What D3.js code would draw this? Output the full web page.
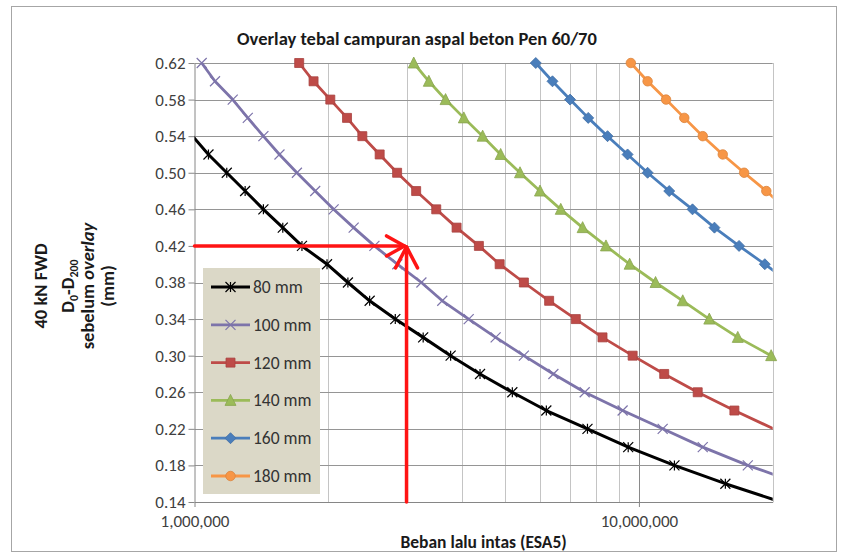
<!DOCTYPE html>
<html>
<head>
<meta charset="utf-8">
<script src="https://cdn.jsdelivr.net/npm/d3@7"></script>
<style>
  body { margin: 0; background: #fff; }
  svg { display: block; }
  text { font-family: Carlito, Calibri, Lato, "Open Sans", sans-serif; }
</style>
</head>
<body>
<svg id="chart" width="843" height="557"></svg>
<script>
// Deflection levels (mm) shared by every thickness curve
const deflection = [0.62, 0.60, 0.58, 0.56, 0.54, 0.52, 0.50, 0.48, 0.46, 0.44, 0.42, 0.40,
                    0.38, 0.36, 0.34, 0.32, 0.30, 0.28, 0.26, 0.24, 0.22, 0.20, 0.18, 0.16, 0.14];

// Traffic load (million ESA5) reaching each deflection level; null = level not on the curve
const esa80  = [null, null, null, 0.92, 0.99, 1.075, 1.182, 1.300, 1.429, 1.580, 1.745, 1.987,
                2.214, 2.478, 2.83, 3.27, 3.77, 4.39, 5.19, 6.19, 7.66, 9.46, 12.02, 15.65, 20.9];
const esa100 = [1.038, 1.112, 1.219, 1.318, 1.429, 1.553, 1.700, 1.869, 2.056, 2.281, 2.54, 2.86,
                3.24, 3.61, 4.14, 4.76, 5.51, 6.42, 7.55, 9.19, 11.31, 13.92, 17.58, 23.1, null];
const esa120 = [1.72, 1.853, 2.021, 2.204, 2.386, 2.61, 2.857, 3.153, 3.499, 3.888, 4.364, 4.86,
                5.51, 6.28, 7.21, 8.28, 9.68, 11.40, 13.56, 16.40, 20.1, null, null, null, null];
const esa140 = [3.114, 3.367, 3.672, 4.037, 4.45, 4.885, 5.40, 5.99, 6.67, 7.47, 8.43, 9.53,
                10.9, 12.55, 14.40, 16.69, 19.84, null, null, null, null, null, null, null, null];
const esa160 = [5.86, 6.39, 7.00, 7.69, 8.50, 9.43, 10.46, 11.70, 13.2, 14.79, 16.8, 19.2,
                21.8, null, null, null, null, null, null, null, null, null, null, null, null];
const esa180 = [9.59, 10.46, 11.51, 12.65, 13.92, 15.44, 17.25, 19.35, 21.5, null, null, null,
                null, null, null, null, null, null, null, null, null, null, null, null, null];

const seriesNames   = ["80 mm", "100 mm", "120 mm", "140 mm", "160 mm", "180 mm"];
const seriesValues  = [esa80, esa100, esa120, esa140, esa160, esa180];
const seriesColors  = ["#000000", "#7d74aa", "#be4b48", "#9bbb59", "#4a7ebb", "#f79646"];
const seriesMarkers = ["star", "cross", "square", "triangle", "diamond", "circle"];

const xDomain = [1e6, 2e7];
const yDomain = [0.14, 0.62];
const xTickValues = [1e6, 1e7];
const xGridValues = [2e6, 3e6, 4e6, 5e6, 6e6, 7e6, 8e6, 9e6, 2e7];
const yTickValues = [0.14, 0.18, 0.22, 0.26, 0.30, 0.34, 0.38, 0.42, 0.46, 0.50, 0.54, 0.58, 0.62];

// Worked example: 3,000,000 ESA5 at 0.42 mm
const exampleEsa = 3e6;
const exampleDefl = 0.42;

const svg = d3.select("#chart");
const plot = { left: 194.5, right: 772.7, top: 63, bottom: 502 };

const x = d3.scaleLog().domain(xDomain).range([plot.left, plot.right]);
const y = d3.scaleLinear().domain(yDomain).range([plot.bottom, plot.top]);

// chart frame
svg.append("rect")
  .attr("x", 11.5).attr("y", 6.5).attr("width", 825).attr("height", 545)
  .attr("fill", "#fff").attr("stroke", "#a6a6a6").attr("stroke-width", 1);

// title
svg.append("text")
  .attr("x", 417).attr("y", 45)
  .attr("text-anchor", "middle")
  .attr("font-weight", "bold").attr("font-size", 18.5).attr("fill", "#1a1a1a")
  .text("Overlay tebal campuran aspal beton Pen 60/70");

// gridlines
const grid = svg.append("g");
grid.selectAll(".vminor").data(xGridValues).join("line")
  .attr("x1", d => Math.round(x(d)) + 0.5).attr("x2", d => Math.round(x(d)) + 0.5)
  .attr("y1", plot.top).attr("y2", plot.bottom)
  .attr("stroke", "#c4c4c4").attr("stroke-width", 1);
grid.append("line")
  .attr("x1", Math.round(x(1e7)) + 0.5).attr("x2", Math.round(x(1e7)) + 0.5)
  .attr("y1", plot.top).attr("y2", plot.bottom)
  .attr("stroke", "#8a8a8a").attr("stroke-width", 1);
grid.selectAll(".h").data(yTickValues.slice(1)).join("line")
  .attr("x1", plot.left).attr("x2", plot.right)
  .attr("y1", d => Math.round(y(d)) + 0.5).attr("y2", d => Math.round(y(d)) + 0.5)
  .attr("stroke", "#959595").attr("stroke-width", 1);

// axes
const yAxis = svg.append("g")
  .attr("transform", `translate(${plot.left},0)`)
  .call(d3.axisLeft(y).tickValues(yTickValues).tickFormat(d3.format(".2f")).tickSize(6).tickSizeOuter(0));
const xAxis = svg.append("g")
  .attr("transform", `translate(0,${plot.bottom})`)
  .call(d3.axisBottom(x).tickValues(xTickValues).tickFormat(d3.format(",")).tickSize(5).tickSizeOuter(0));
[xAxis, yAxis].forEach(a => {
  a.select(".domain").attr("stroke", "#868686");
  a.selectAll(".tick line").attr("stroke", "#868686");
  a.selectAll(".tick text").attr("fill", "#404040").attr("font-size", 17)
    .style("font-family", 'Carlito, Calibri, Lato, "Open Sans", sans-serif');
});
yAxis.selectAll(".tick text").attr("x", -9);
xAxis.selectAll(".tick text").attr("y", 13);

// axis titles
svg.append("text")
  .attr("x", (plot.left + plot.right) / 2).attr("y", 548)
  .attr("text-anchor", "middle").attr("font-weight", "bold").attr("font-size", 17.5).attr("fill", "#1a1a1a")
  .text("Beban lalu intas (ESA5)");

const yt = svg.append("g").attr("transform", "translate(0,286) rotate(-90)")
  .attr("font-weight", "bold").attr("font-size", 18.5).attr("fill", "#1a1a1a");
yt.append("text").attr("y", 46.5).attr("text-anchor", "middle").text("40 kN FWD");
const l2 = yt.append("text").attr("y", 73.5).attr("text-anchor", "middle");
l2.append("tspan").text("D");
l2.append("tspan").attr("font-size", 12).attr("dy", 4).text("0");
l2.append("tspan").attr("dy", -4).text("-D");
l2.append("tspan").attr("font-size", 12).attr("dy", 4).text("200");
const l3 = yt.append("text").attr("y", 94).attr("text-anchor", "middle");
l3.append("tspan").text("sebelum ");
l3.append("tspan").attr("font-style", "italic").text("overlay");
yt.append("text").attr("y", 114).attr("text-anchor", "middle").text("(mm)");

// marker shapes
function markerPath(type, s) {
  const h = s / 2;
  switch (type) {
    case "star": return `M${-h},${-h}L${h},${h}M${-h},${h}L${h},${-h}M0,${-h}L0,${h}`;
    case "cross": return `M${-h},${-h}L${h},${h}M${-h},${h}L${h},${-h}`;
    case "square": return `M${-h},${-h}H${h}V${h}H${-h}Z`;
    case "triangle": return `M0,${-h - 1}L${h + 0.5},${h}L${-h - 0.5},${h}Z`;
    case "diamond": return `M0,${-h - 1}L${h + 1},0L0,${h + 1}L${-h - 1},0Z`;
    case "circle": return d3.symbol(d3.symbolCircle, Math.PI * h * h)();
  }
}
function drawMarker(g, type, color, cx, cy) {
  const open = type === "star" || type === "cross";
  const size = { star: 10, cross: 10, square: 9, triangle: 10, diamond: 9, circle: 9.5 }[type];
  g.append("path")
    .attr("transform", `translate(${cx},${cy})`)
    .attr("d", markerPath(type, size))
    .attr("fill", open ? "none" : color)
    .attr("stroke", open ? color : d3.color(color).darker(0.35))
    .attr("stroke-width", open ? 1.2 : 0.8);
}

// series curves
svg.append("clipPath").attr("id", "plotClip").append("rect")
  .attr("x", plot.left).attr("y", plot.top - 1)
  .attr("width", plot.right - plot.left).attr("height", plot.bottom - plot.top + 1);

const line = d3.line().x(d => x(d.esa)).y(d => y(d.defl));
const layer = svg.append("g");
seriesValues.forEach((vals, i) => {
  const pts = deflection.map((d, j) => ({ defl: d, esa: vals[j] == null ? null : vals[j] * 1e6 }))
    .filter(p => p.esa != null);
  layer.append("path")
    .attr("d", line(pts))
    .attr("clip-path", "url(#plotClip)")
    .attr("fill", "none").attr("stroke", seriesColors[i])
    .attr("stroke-width", i === 0 ? 3 : 2.8).attr("stroke-linejoin", "round");
  const mg = layer.append("g");
  pts.filter(p => p.esa >= xDomain[0] && p.esa <= xDomain[1] && p.defl <= yDomain[1])
    .forEach(p => drawMarker(mg, seriesMarkers[i], seriesColors[i], x(p.esa), y(p.defl)));
});

// worked-example arrows
const ax = x(exampleEsa), ay = y(exampleDefl);
const red = "#ff1414";
const arrows = svg.append("g").attr("stroke", red).attr("fill", "none")
  .attr("stroke-width", 3.5).attr("stroke-linecap", "round").attr("stroke-linejoin", "round");
arrows.append("line").attr("x1", plot.left).attr("y1", ay).attr("x2", ax - 2).attr("y2", ay);
arrows.append("path").attr("d", `M${ax - 20},${ay - 10}L${ax - 2},${ay}L${ax - 20},${ay + 10}`);
arrows.append("line").attr("x1", ax).attr("y1", plot.bottom).attr("x2", ax).attr("y2", ay + 1);
arrows.append("path").attr("d", `M${ax - 11},${ay + 22}L${ax},${ay + 1}L${ax + 11},${ay + 22}`);

// legend
const legend = svg.append("g");
legend.append("rect")
  .attr("x", 203).attr("y", 268).attr("width", 117).attr("height", 226)
  .attr("fill", "#dbd8c7");
seriesNames.forEach((name, i) => {
  const ly = 287 + i * 37.8;
  legend.append("line").attr("x1", 211).attr("x2", 250).attr("y1", ly).attr("y2", ly)
    .attr("stroke", seriesColors[i]).attr("stroke-width", 2.8);
  drawMarker(legend, seriesMarkers[i], seriesColors[i], 230.5, ly);
  legend.append("text").attr("x", 253).attr("y", ly + 6)
    .attr("font-size", 17.5).attr("fill", "#333").text(name);
});
</script>
</body>
</html>
